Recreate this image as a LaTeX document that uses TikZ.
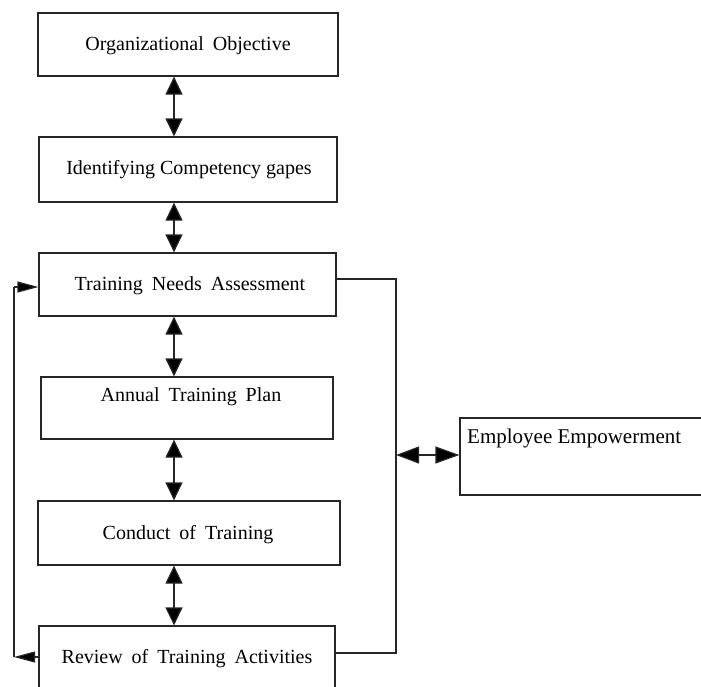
\documentclass[tikz,border=0pt]{standalone}
\usepackage{fontspec}
\setmainfont{Liberation Serif}
\usetikzlibrary{arrows.meta}
\newcommand\wsp{\hspace{0.45em}}
\tikzset{
  box/.style={draw=black!85, line width=1.2pt, inner sep=0pt},
  lbl/.style={inner sep=0pt, font=\fontsize{20}{24}\selectfont, text=black},
  conn/.style={draw=black!85, line width=1.2pt},
  vdbl/.style={conn, {Triangle[length=18pt,width=17pt,fill=black]}-{Triangle[length=18pt,width=17pt,fill=black]}},
  hdbl/.style={conn, {Triangle[length=23pt,width=17pt,fill=black]}-{Triangle[length=24pt,width=17pt,fill=black]}},
  loop/.style={conn, -{Triangle[length=21pt,width=11pt,fill=black]}}
}
\begin{document}
\begin{tikzpicture}[x=1pt,y=-1pt]
\clip (0,0) rectangle (701,686);
\useasboundingbox (0,0) rectangle (701,686);
% boxes
\node[box, minimum width=300pt, minimum height=63pt] (b1) at (188,44.5) {};
\node[box, minimum width=298pt, minimum height=65pt] (b2) at (188,169.5) {};
\node[box, minimum width=297pt, minimum height=63pt] (b3) at (187.5,284.5) {};
\node[box, minimum width=292pt, minimum height=62pt] (b4) at (187,408) {};
\node[box, minimum width=302pt, minimum height=64pt] (b5) at (189,533) {};
\node[box, minimum width=296pt, minimum height=66pt] (b6) at (187,659) {};
\node[box, minimum width=244pt, minimum height=77pt] (emp) at (582,456.5) {};
% texts
\node[lbl] (t1) at (188,46) {Organizational\wsp Objective};
\node[lbl] (t2) at (189,170) {Identifying Competency gapes};
\node[lbl] (t3) at (190,286) {Training\wsp Needs\wsp Assessment};
\node[lbl] (t4) at (191,397) {Annual\wsp Training\wsp Plan};
\node[lbl] (t5) at (188,535) {Conduct\wsp of\wsp Training};
\node[lbl] (t6) at (187,659) {Review\wsp of\wsp Training\wsp Activities};
\node[lbl, anchor=west, font=\fontsize{21}{25}\selectfont] (t7) at (467,438) {Employee Empowerment};
% vertical double arrows
\coordinate (ax) at (174,0);
\draw[vdbl] (b1.south -| ax) -- (b2.north -| ax);
\draw[vdbl] (b2.south -| ax) -- (b3.north -| ax);
\draw[vdbl] (b3.south -| ax) -- (b4.north -| ax);
\draw[vdbl] (b4.south -| ax) -- (b5.north -| ax);
\draw[vdbl] (b5.south -| ax) -- (b6.north -| ax);
% left feedback loop
\coordinate (L1) at (14,657);
\coordinate (L2) at (14,287);
\draw[loop] (b6.west |- L1) -- (L1);
\draw[conn] (L1) -- (L2);
\draw[loop] (L2) -- (b3.west |- L2);
% right bracket
\coordinate (R) at (396,455);
\coordinate (RT) at (396,279);
\coordinate (RB) at (396,653);
\draw[conn] (b3.east |- RT) -- (RT) -- (RB) -- (b6.east |- RB);
\draw[hdbl] (R) -- (emp.west |- R);
\end{tikzpicture}
\end{document}
